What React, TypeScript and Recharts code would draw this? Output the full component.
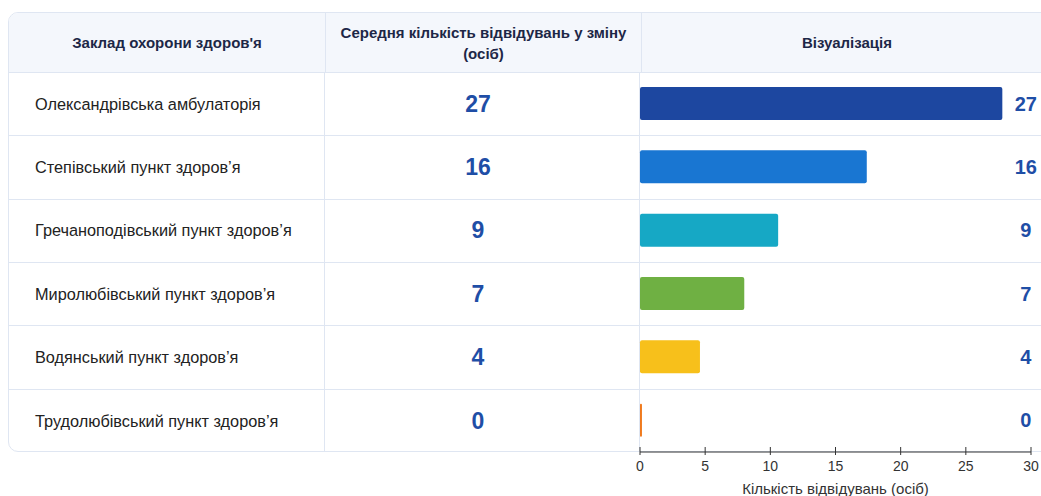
import { BarChart, Bar, XAxis, YAxis, Cell, LabelList } from 'recharts';

const facilities = [
  'Олександрівська амбулаторія',
  'Степівський пункт здоров’я',
  'Гречаноподівський пункт здоров’я',
  'Миролюбівський пункт здоров’я',
  'Водянський пункт здоров’я',
  'Трудолюбівський пункт здоров’я',
];
// numbers shown in the table
const visits = [27, 16, 9, 7, 4, 0];
// bar lengths as drawn in the picture
const barLengths = [27.8, 17.4, 10.6, 8.0, 4.6, 0.15];
const barColors = ['#1d47a0', '#1976d2', '#16a8c5', '#6fb043', '#f7c01b', '#f07a1d'];
const xTicks = [0, 5, 10, 15, 20, 25, 30];

const data = facilities.map((name, i) => ({ name, value: barLengths[i], shown: visits[i] }));

const FONT = '"Liberation Sans", Arial, Helvetica, sans-serif';
const BORDER = '#dfe6f2';
const HEAD_BG = '#f4f7fc';
const NUM_BLUE = '#1f4ea6';

const CHART_W = 421;
const CHART_H = 424;
const MARGIN_L = 20;
const MARGIN_R = 10;
const PLOT_W = CHART_W - MARGIN_L - MARGIN_R;
const LABEL_AT = 29.6; // value-label column, in axis units

const ValueLabel = (props: any) => {
  const { x, y, height, index } = props;
  const lx = x + (LABEL_AT / 30) * PLOT_W;
  return (
    <text
      x={lx}
      y={y + height / 2}
      textAnchor="middle"
      dominantBaseline="central"
      fill={NUM_BLUE}
      fontWeight="bold"
      fontSize={20}
      fontFamily={FONT}
    >
      {visits[index]}
    </text>
  );
};

const AxisTick = (props: any) => {
  const { x, y, payload } = props;
  return (
    <g>
      <line x1={x} x2={x} y1={-4} y2={4} transform={`translate(0, ${y - 9})`} stroke="#333" strokeWidth={1} />
      <text x={x} y={y + 6} textAnchor="middle" dominantBaseline="central" fill="#333" fontSize={14} fontFamily={FONT}>
        {payload.value}
      </text>
    </g>
  );
};

export default function App() {
  const rowH = 380 / facilities.length;
  return (
    <div
      style={{
        position: 'fixed',
        left: 0,
        top: 0,
        width: 1041,
        height: 496,
        overflow: 'hidden',
        background: '#fff',
        fontFamily: FONT,
      }}
    >
      {/* table card */}
      <div
        style={{
          position: 'absolute',
          left: 8,
          top: 12,
          width: 1100,
          height: 440,
          border: `1px solid ${BORDER}`,
          borderRadius: 10,
          boxSizing: 'border-box',
          overflow: 'hidden',
        }}
      >
        <div
          style={{
            height: 60,
            background: HEAD_BG,
            borderBottom: `1px solid ${BORDER}`,
            boxSizing: 'border-box',
            display: 'flex',
            color: '#1d2747',
            fontWeight: 'bold',
            fontSize: 15,
          }}
        >
          <div style={{ width: 316, display: 'flex', alignItems: 'center', justifyContent: 'center', borderRight: `1px solid ${BORDER}` }}>
            Заклад охорони здоров'я
          </div>
          <div style={{ width: 315, display: 'flex', alignItems: 'center', justifyContent: 'center', textAlign: 'center', lineHeight: '21px', borderRight: `1px solid ${BORDER}` }}>
            Середня кількість відвідувань у зміну
            <br />
            (осіб)
          </div>
          <div style={{ width: 410, display: 'flex', alignItems: 'center', justifyContent: 'center' }}>
            Візуалізація
          </div>
        </div>
        {facilities.map((f, i) => (
          <div
            key={f}
            style={{
              height: rowH,
              display: 'flex',
              borderBottom: i < facilities.length - 1 ? `1px solid ${BORDER}` : 'none',
              boxSizing: 'border-box',
            }}
          >
            <div style={{ width: 316, display: 'flex', alignItems: 'center', paddingLeft: 26, boxSizing: 'border-box', fontSize: 16.3, color: '#222', borderRight: `1px solid ${BORDER}` }}>
              {f}
            </div>
            <div style={{ width: 315, display: 'flex', alignItems: 'center', justifyContent: 'center', paddingRight: 8, boxSizing: 'border-box', fontSize: 23, fontWeight: 'bold', color: NUM_BLUE, borderRight: `1px solid ${BORDER}` }}>
              {visits[i]}
            </div>
          </div>
        ))}
      </div>

      {/* visualization column */}
      <div style={{ position: 'absolute', left: 640 - MARGIN_L, top: 72 }}>
        <BarChart
          width={CHART_W}
          height={CHART_H}
          data={data}
          layout="vertical"
          margin={{ top: 0, right: MARGIN_R, bottom: 0, left: MARGIN_L }}
        >
          <XAxis
            type="number"
            domain={[0, 30]}
            ticks={xTicks}
            interval={0}
            height={44}
            axisLine={{ stroke: '#333', strokeWidth: 1.2 }}
            tickLine={false}
            tick={AxisTick}
            label={{ value: 'Кількість відвідувань (осіб)', position: 'insideBottom', offset: 2, fill: '#333', fontSize: 15, fontFamily: FONT }}
          />
          <YAxis type="category" dataKey="name" hide />
          <Bar dataKey="value" barSize={33} radius={2} isAnimationActive={false}>
            {data.map((d, i) => (
              <Cell key={d.name} fill={barColors[i]} />
            ))}
            <LabelList dataKey="shown" content={ValueLabel} />
          </Bar>
        </BarChart>
      </div>
    </div>
  );
}
